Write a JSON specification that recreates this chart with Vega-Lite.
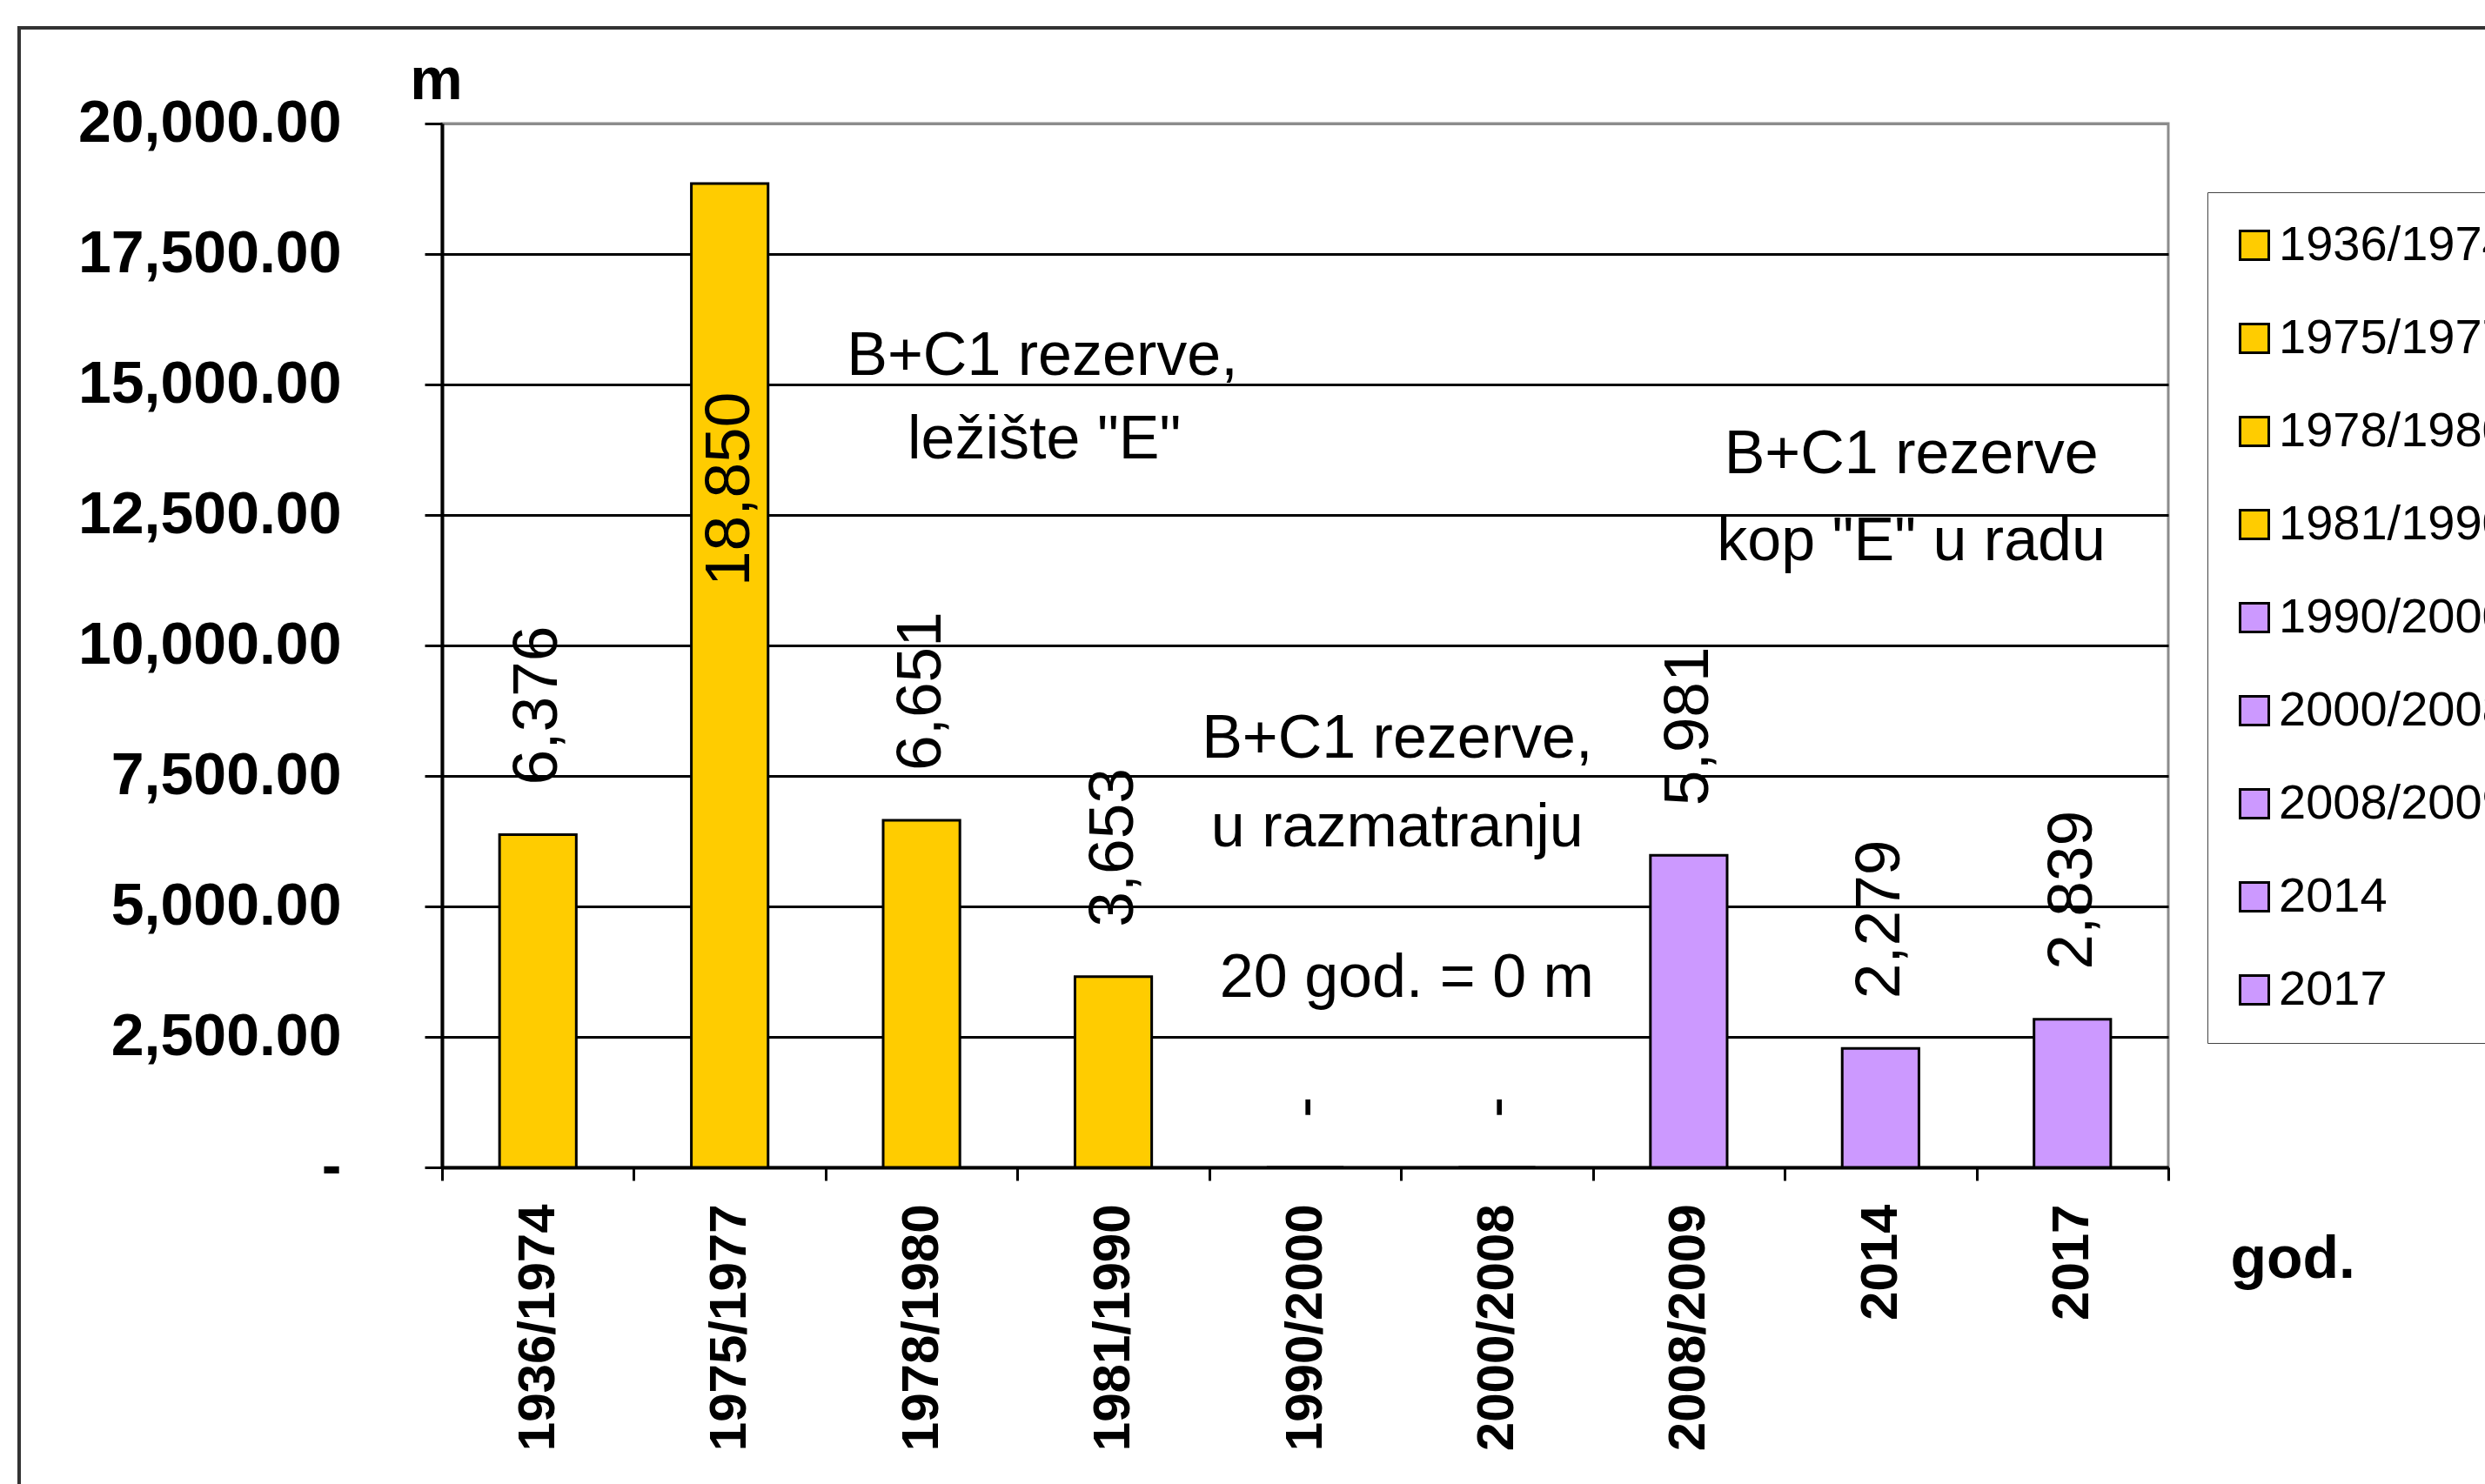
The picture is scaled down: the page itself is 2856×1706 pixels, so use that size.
{
  "$schema": "https://vega.github.io/schema/vega-lite/v6.json",
  "width": 1984,
  "height": 1200,
  "autosize": {"type": "none"},
  "padding": {"left": 508, "top": 142, "right": 364, "bottom": 364},
  "background": "white",
  "config": {"view": {"stroke": "#8c8c8c", "strokeWidth": 3}, "font": "Liberation Sans"},
  "datasets": {
    "bars": [
      {"period": "1936/1974", "value": 6376},
      {"period": "1975/1977", "value": 18850},
      {"period": "1978/1980", "value": 6651},
      {"period": "1981/1990", "value": 3653},
      {"period": "1990/2000", "value": 0},
      {"period": "2000/2008", "value": 0},
      {"period": "2008/2009", "value": 5981},
      {"period": "2014", "value": 2279},
      {"period": "2017", "value": 2839}
    ],
    "notes": [
      {"xpos": 3.13, "ypos": 15540, "text": "B+C1 rezerve,"},
      {"xpos": 3.14, "ypos": 13930, "text": "ležište \"E\""},
      {"xpos": 4.98, "ypos": 8194, "text": "B+C1 rezerve,"},
      {"xpos": 4.98, "ypos": 6495, "text": "u razmatranju"},
      {"xpos": 5.03, "ypos": 3612, "text": "20 god. = 0 m"},
      {"xpos": 7.66, "ypos": 13657, "text": "B+C1 rezerve"},
      {"xpos": 7.66, "ypos": 11988, "text": "kop \"E\" u radu"}
    ]
  },
  "layer": [
    {
      "data": {"name": "bars"},
      "layer": [
        {
          "mark": {"type": "bar", "stroke": "black", "strokeWidth": 3, "width": {"band": 0.4}},
          "encoding": {
            "x": {
              "field": "period", "type": "nominal", "sort": null,
              "scale": {"paddingInner": 0, "paddingOuter": 0},
              "axis": {
                "labelAngle": 270, "labelFont": "Liberation Sans", "labelFontWeight": "bold",
                "labelFontSize": 60, "labelColor": "black", "labelPadding": 27, "labelLimit": 1000,
                "tickBand": "extent", "tickSize": 15, "tickColor": "black", "tickWidth": 3,
                "domainColor": "black", "domainWidth": 4,
                "title": "god.", "titleX": 2055, "titleY": 126, "titleAlign": "left",
                "titleBaseline": "alphabetic", "titleFont": "Liberation Sans",
                "titleFontSize": 68, "titleFontWeight": "bold", "titleColor": "black"
              }
            },
            "y": {
              "field": "value", "type": "quantitative",
              "scale": {"domain": [0, 20000]},
              "axis": {
                "values": [0, 2500, 5000, 7500, 10000, 12500, 15000, 17500, 20000],
                "labelExpr": "datum.value === 0 ? '-    ' : format(datum.value, ',.2f')",
                "labelFont": "Liberation Sans", "labelFontWeight": "bold",
                "labelFontSize": 68, "labelColor": "black", "labelPadding": 96, "labelLimit": 1000,
                "tickSize": 20, "tickColor": "black", "tickWidth": 3,
                "domainColor": "black", "domainWidth": 4,
                "grid": true,
                "gridColor": {"condition": {"test": "datum.value === 20000", "value": "#8c8c8c"}, "value": "black"},
                "gridWidth": 3,
                "title": "m", "titleAngle": 0, "titleX": -7, "titleY": -29,
                "titleAlign": "center", "titleBaseline": "alphabetic",
                "titleFont": "Liberation Sans", "titleFontSize": 68,
                "titleFontWeight": "bold", "titleColor": "black"
              }
            },
            "color": {
              "field": "period", "type": "nominal", "sort": null,
              "scale": {
                "domain": ["1936/1974", "1975/1977", "1978/1980", "1981/1990", "1990/2000", "2000/2008", "2008/2009", "2014", "2017"],
                "range": ["#FFCC00", "#FFCC00", "#FFCC00", "#FFCC00", "#CC99FF", "#CC99FF", "#CC99FF", "#CC99FF", "#CC99FF"]
              },
              "legend": {
                "orient": "none", "legendX": 2029, "legendY": 79, "title": null,
                "symbolType": "square", "symbolSize": 1089,
                "symbolStrokeColor": "black", "symbolStrokeWidth": 3,
                "symbolOffset": -7,
                "labelFont": "Liberation Sans", "labelFontSize": 56, "labelColor": "black",
                "labelOffset": 0, "rowPadding": 51, "padding": 33,
                "strokeColor": "#444444", "fillColor": "white",
                "labelLimit": 1000
              }
            }
          }
        },
        {
          "transform": [{"filter": "datum.value < 15000"}],
          "mark": {"type": "text", "angle": 270, "align": "left", "baseline": "middle", "dx": 57, "font": "Liberation Sans", "fontSize": 73, "color": "black"},
          "encoding": {
            "x": {"field": "period", "type": "nominal", "sort": null},
            "y": {"field": "value", "type": "quantitative"},
            "text": {"condition": {"test": "datum.value === 0", "value": "-"}, "field": "value", "type": "quantitative", "format": ","}
          }
        },
        {
          "transform": [{"filter": "datum.value >= 15000"}],
          "mark": {"type": "text", "angle": 270, "align": "left", "baseline": "middle", "dx": -463, "font": "Liberation Sans", "fontSize": 73, "color": "black"},
          "encoding": {
            "x": {"field": "period", "type": "nominal", "sort": null},
            "y": {"field": "value", "type": "quantitative"},
            "text": {"field": "value", "type": "quantitative", "format": ","}
          }
        }
      ]
    },
    {
      "layer": [
        {
          "data": {"name": "notes"},
          "mark": {"type": "text", "align": "center", "baseline": "middle", "font": "Liberation Sans", "fontSize": 70, "color": "black"},
          "encoding": {
            "x": {"field": "xpos", "type": "quantitative", "scale": {"domain": [0, 9]}, "axis": null},
            "y": {"field": "ypos", "type": "quantitative"},
            "text": {"field": "text"}
          }
        },
        {
          "data": {"values": [{}]},
          "mark": {"type": "rect", "fillOpacity": 0, "stroke": "#333333", "strokeWidth": 4},
          "encoding": {
            "x": {"datum": -2.2047, "type": "quantitative", "scale": {"domain": [0, 9]}, "axis": null},
            "x2": {"datum": 12},
            "y": {"datum": 21833, "type": "quantitative"},
            "y2": {"datum": -10000}
          }
        }
      ]
    }
  ],
  "resolve": {"scale": {"x": "independent"}}
}
